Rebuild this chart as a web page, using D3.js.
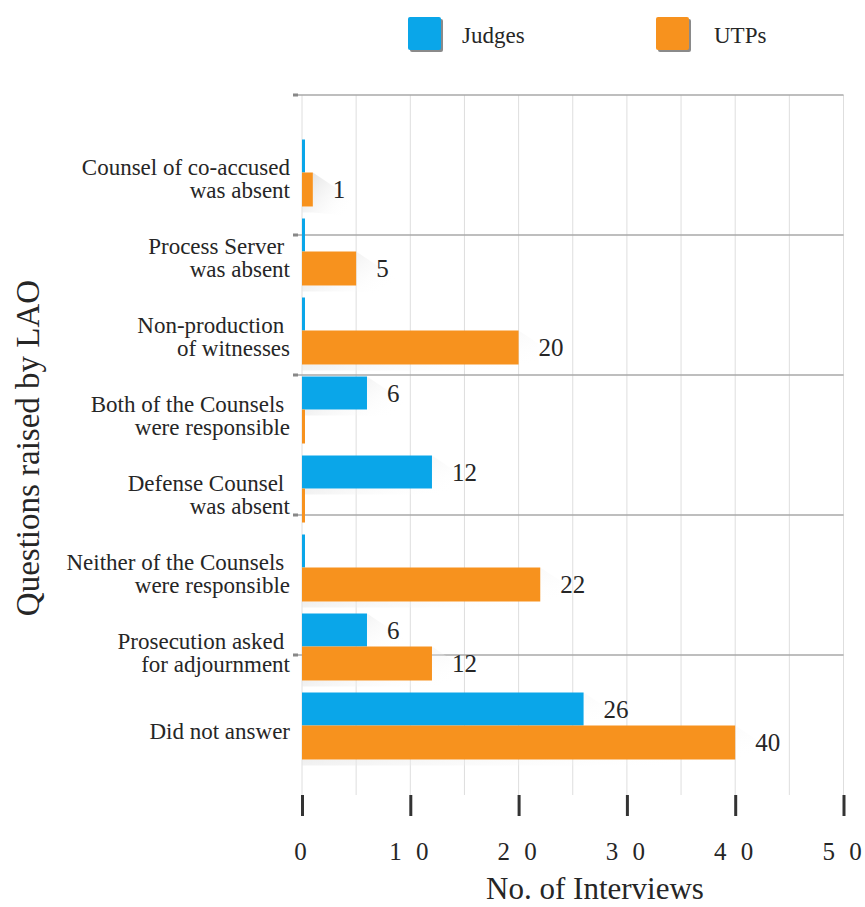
<!DOCTYPE html>
<html>
<head>
<meta charset="utf-8">
<script src="https://cdn.jsdelivr.net/npm/d3@7"></script>
<style>
  html, body { margin: 0; padding: 0; background: #fff; }
  svg { display: block; }
  svg text { font-family: "Liberation Serif", "Times New Roman", serif; }
</style>
</head>
<body>
<svg id="chart" width="865" height="907"></svg>
<script>
// ---- data ----
const categories = [
  "Counsel of co-accused\nwas absent",
  "Process Server \nwas absent",
  "Non-production \nof witnesses",
  "Both of the Counsels \nwere responsible",
  "Defense Counsel \nwas absent",
  "Neither of the Counsels \nwere responsible",
  "Prosecution asked \nfor adjournment",
  "Did not answer"
];
const seriesNames = ["Judges", "UTPs"];
const judges = [0, 0, 0, 6, 12, 0, 6, 26];
const utps   = [1, 5, 20, 0, 0, 22, 12, 40];
const xTicks = [0, 10, 20, 30, 40, 50];
const xTickLabels = ["0", "1 0", "2 0", "3 0", "4 0", "5 0"];
const xTitle = "No. of Interviews";
const yTitle = "Questions raised by LAO";

// ---- styles ----
const FONT = "Liberation Serif, Times New Roman, serif";
const colors = { Judges: "#0aa6e9", UTPs: "#f7921e" };
const textColor = "#262626";

const svg = d3.select("#chart");

const plot = { left: 302, right: 843.5, top: 95, bottom: 795 };

const x = d3.scaleLinear().domain([0, 50]).range([plot.left, plot.right]);
const y = d3.scaleBand().domain(categories).range([133, 765]);
const gy = d3.scaleLinear().domain([0, 5]).range([plot.top, plot.bottom]);

const defs = svg.append("defs");
const grad = defs.append("linearGradient").attr("id", "shadowGrad")
  .attr("x1", "0").attr("y1", "0").attr("x2", "1").attr("y2", "0.6");
grad.append("stop").attr("offset", "0").attr("stop-color", "#d6d6d6").attr("stop-opacity", 0.9);
grad.append("stop").attr("offset", "1").attr("stop-color", "#ffffff").attr("stop-opacity", 0);

// vertical grid lines every 5 units
svg.append("g").selectAll("line")
  .data(d3.range(0, 51, 5))
  .join("line")
  .attr("x1", d => x(d)).attr("x2", d => x(d))
  .attr("y1", plot.top).attr("y2", plot.bottom)
  .attr("stroke", "#dedede").attr("stroke-width", 1);

// horizontal grid lines
const hg = svg.append("g");
hg.selectAll("line")
  .data(d3.range(0, 5))
  .join("line")
  .attr("x1", plot.left - 8).attr("x2", plot.right)
  .attr("y1", d => gy(d)).attr("y2", d => gy(d))
  .attr("stroke", "#a8a8a8").attr("stroke-width", 1.5);
hg.selectAll("rect.mk")
  .data(d3.range(0, 5))
  .join("rect").attr("class", "mk")
  .attr("x", plot.left - 9).attr("y", d => gy(d) - 1.5)
  .attr("width", 5).attr("height", 3).attr("fill", "#888");

// bars
const barH = 33;
const rows = categories.map((c, i) => ({ c, i, Judges: judges[i], UTPs: utps[i] }));
const bars = [];
rows.forEach(r => {
  const cy = y(r.c) + y.bandwidth() / 2;
  bars.push({ s: "Judges", v: r.Judges, y0: cy - barH, y1: cy });
  bars.push({ s: "UTPs", v: r.UTPs, y0: cy, y1: cy + barH + 1 });
});

// soft shadows
svg.append("g").selectAll("path")
  .data(bars.filter(b => b.v > 0))
  .join("path")
  .attr("d", b => {
    const x1 = x(b.v);
    return `M${x1},${b.y0} L${x1 + 45},${b.y0 + 30} L${x1 + 45},${b.y1 + 10} L${x1},${b.y1 + 6} L${x(0)},${b.y1 + 6} L${x(0)},${b.y1} L${x1},${b.y1} Z`;
  })
  .attr("fill", "url(#shadowGrad)");

svg.append("g").selectAll("rect")
  .data(bars)
  .join("rect")
  .attr("x", x(0))
  .attr("y", b => b.y0)
  .attr("width", b => Math.max(x(b.v) - x(0), 3))
  .attr("height", b => b.y1 - b.y0)
  .attr("fill", b => colors[b.s]);

// value labels
svg.append("g").selectAll("text")
  .data(bars.filter(b => b.v > 0))
  .join("text")
  .attr("x", b => x(b.v) + 20)
  .attr("y", b => (b.y0 + b.y1) / 2)
  .attr("dy", "0.35em")
  .attr("font-family", FONT)
  .attr("font-size", 25)
  .attr("fill", textColor)
  .text(b => b.v);

// category labels
const cl = svg.append("g");
categories.forEach(c => {
  const lines = c.split("\n");
  const cy = y(c) + y.bandwidth() / 2 + 6;
  const lh = 23;
  const t = cl.append("text")
    .attr("text-anchor", "end")
    .attr("font-family", FONT)
    .attr("font-size", 23)
    .attr("fill", textColor)
    .attr("xml:space", "preserve")
    .style("white-space", "pre");
  lines.forEach((ln, k) => {
    t.append("tspan")
      .attr("x", 290)
      .attr("y", cy + (k - (lines.length - 1) / 2) * lh)
      .attr("dy", "0.33em")
      .text(ln);
  });
});

// x axis
const ax = svg.append("g")
  .attr("transform", `translate(0,${plot.bottom})`)
  .call(d3.axisBottom(x).tickValues(xTicks)
    .tickFormat((d, i) => xTickLabels[i])
    .tickSize(21).tickPadding(26));
ax.attr("font-family", FONT);
ax.select(".domain").remove();
ax.selectAll(".tick line").attr("stroke", "#333").attr("stroke-width", 3);
ax.selectAll(".tick text")
  .attr("font-family", FONT)
  .attr("font-size", 25)
  .attr("fill", textColor)
  .style("letter-spacing", "4px");

// axis titles
svg.append("text")
  .attr("x", 595).attr("y", 899)
  .attr("text-anchor", "middle")
  .attr("font-family", FONT)
  .attr("font-size", 31)
  .attr("fill", textColor)
  .text(xTitle);

svg.append("text")
  .attr("transform", `translate(39,448) rotate(-90)`)
  .attr("text-anchor", "middle")
  .attr("font-family", FONT)
  .attr("font-size", 33)
  .attr("fill", textColor)
  .text(yTitle);

// legend
const legendPos = [{ sx: 408, tx: 462 }, { sx: 656, tx: 714 }];
const lg = svg.append("g");
seriesNames.forEach((s, i) => {
  const p = legendPos[i];
  lg.append("rect").attr("x", p.sx + 2).attr("y", 19).attr("width", 33).attr("height", 33)
    .attr("rx", 2).attr("fill", "#8a8a8a");
  lg.append("rect").attr("x", p.sx).attr("y", 17).attr("width", 33).attr("height", 33)
    .attr("rx", 2).attr("fill", colors[s]);
  lg.append("text").attr("x", p.tx).attr("y", 43)
    .attr("font-family", FONT)
    .attr("font-size", 23).attr("fill", textColor).text(s);
});
</script>
</body>
</html>
